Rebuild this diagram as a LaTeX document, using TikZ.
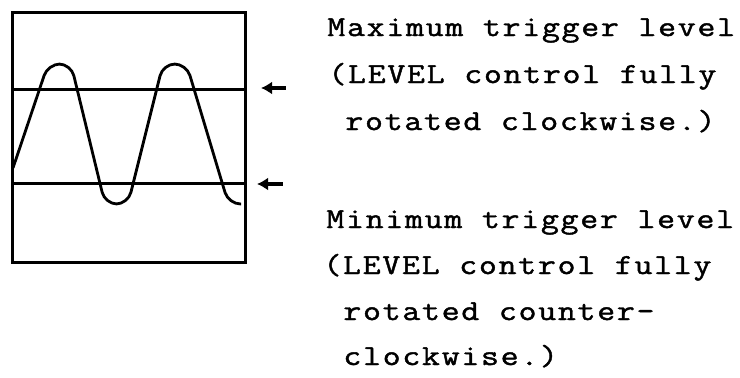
\documentclass[tikz,border=0pt]{standalone}
\usepackage{fontspec}
\setmonofont[FakeStretch=1.2, LetterSpace=6, FakeBold=1.5]{Latin Modern Mono}
\usepackage{tikz}
\usetikzlibrary{arrows.meta}
\tikzset{
  screenline/.style={line width=1.5pt},
  trace/.style={line width=1.4pt, rounded corners=6pt},
  levelarrow/.style={{Latex[length=5.5pt,width=6.5pt]}-, line width=1.6pt},
  caption/.style={anchor=base west, inner sep=0pt, font=\fontsize{14.5}{17}\ttfamily}
}
\begin{document}
\begin{tikzpicture}[x=0.5pt, y=-0.5pt]
      \useasboundingbox (0,0) rectangle (740,377);
      % scope screen and trigger levels
      \draw[screenline] (12,12) rectangle (245,262);
      \draw[screenline] (12,89) -- (245,89);
      \draw[screenline] (12,183) -- (245,183);
      \draw[trace] (13,168) -- (48,64) -- (71,64) -- (105,204) -- (128,204)
        -- (163,64) -- (186.5,64) -- (228.5,204) -- (241,204);
      % arrows to the levels
      \coordinate (maxhead) at (261,88);
      \coordinate (maxtail) at (286,88);
      \coordinate (minhead) at (257,184);
      \coordinate (mintail) at (283,184);
      \draw[levelarrow] (maxhead) -- (maxtail);
      \draw[levelarrow] (minhead) -- (mintail);
      % captions
      \node[caption] (maxa) at (327,36) {Maximum trigger level};
      \node[caption] (maxb) at (328,83) {(LEVEL control fully};
      \node[caption] (maxc) at (345,130) {rotated clockwise.)};
      \node[caption] (mina) at (326,228) {Minimum trigger level};
      \node[caption] (minb) at (323,274) {(LEVEL control fully};
      \node[caption] (minc) at (343,320) {rotated counter-};
      \node[caption] (mind) at (343,365) {clockwise.)};
    \end{tikzpicture}
\end{document}
